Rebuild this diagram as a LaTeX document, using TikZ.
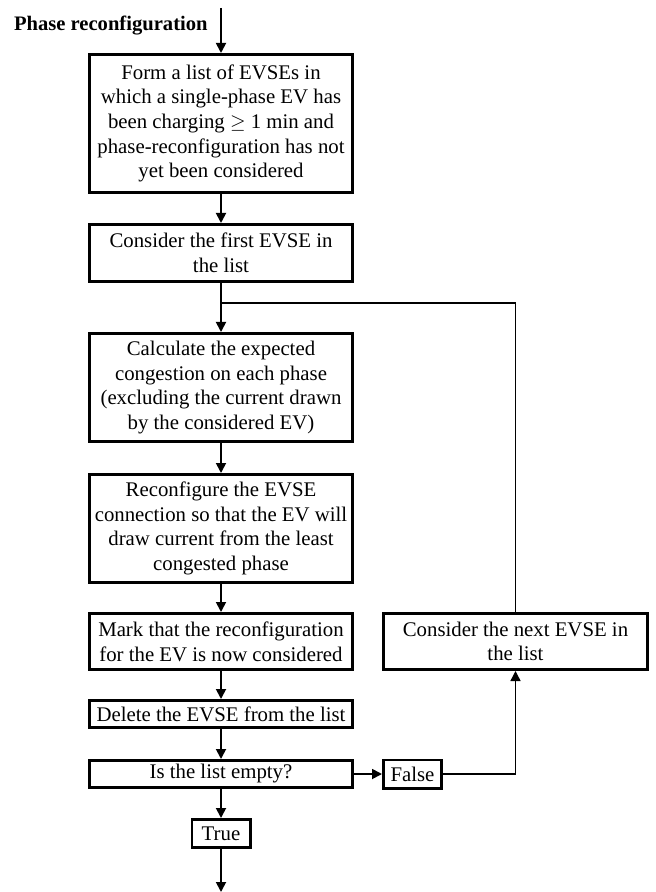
\documentclass[tikz,border=0pt]{standalone}
\usepackage{fontspec}
\setmainfont{Liberation Serif}
\usetikzlibrary{arrows.meta,positioning}
\tikzset{
	stepbox/.style={
		rectangle,
		draw=black,
		line width=1.3pt,
		align=flush center,
		inner xsep=1pt,
		inner ysep=1pt,
		text width=129.7pt,
		font=\fontsize{10.4}{12.35}\selectfont
	},
	tagbox/.style={
		rectangle,
		draw=black,
		line width=1.3pt,
		align=center,
		inner sep=1pt,
		minimum width=29.2pt,
		minimum height=14.2pt,
		font=\fontsize{10.4}{12.35}\selectfont
	},
	line/.style={-{Triangle[width=5pt,length=5pt]},line width=0.9pt}
}
\begin{document}
\begin{tikzpicture}[node distance=14.5pt and 14pt,
			heading/.style={font=\fontsize{10.3}{12.35}\selectfont\bfseries,inner sep=0pt},
			loop/.style={line width=0.7pt}]
		\useasboundingbox (0,0) rectangle (328pt,-446pt);
		% main column
		\node[stepbox,minimum height=69.2pt] (form) at (110.5pt,-61.75pt)
			{Form a list of EVSEs in\\which a single-phase EV has\\been charging $\geq$ 1 min and\\phase-reconfiguration has not\\yet been considered};
		\node[stepbox,minimum height=28.7pt,below=of form] (first)
			{Consider the first EVSE in\\the list};
		\node[stepbox,minimum height=54.2pt,below=24.5pt of first] (calc)
			{Calculate the expected\\congestion on each phase\\(excluding the current drawn\\by the considered EV)};
		\node[stepbox,minimum height=54.2pt,below=15pt of calc] (reconf)
			{Reconfigure the EVSE\\connection so that the EV will\\draw current from the least\\congested phase};
		\node[stepbox,minimum height=28.2pt,below=14pt of reconf] (mark)
			{Mark that the reconfiguration\\for the EV is now considered};
		\node[stepbox,minimum height=13.7pt,below=14pt of mark] (delete)
			{Delete the EVSE from the list};
		\node[stepbox,minimum height=13.7pt,below=15pt of delete] (empty)
			{Is the list empty?};
		\node[tagbox,below=of empty] (true) {True};
		\node[tagbox,right=of empty] (false) {False};
		\node[stepbox,minimum height=28.2pt,text width=130.2pt,right=of mark] (next)
			{Consider the next EVSE in\\the list};

		\coordinate[above=22.5pt of form.north] (start);
		\coordinate[below=21.5pt of true.south] (finish);
		\coordinate[below=10pt of first.south] (join);
		\node[heading,anchor=base east] (title) at ([xshift=-6.5pt,yshift=-11.5pt]start) {Phase reconfiguration};

		\draw[line] (start) -- (form);
		\draw[line] (form) -- (first);
		\draw[line] (first) -- (calc);
		\draw[line] (calc) -- (reconf);
		\draw[line] (reconf) -- (mark);
		\draw[line] (mark) -- (delete);
		\draw[line] (delete) -- (empty);
		\draw[line] (empty) -- (true);
		\draw[line] (true) -- (finish);
		\draw[line] (empty) -- (false);
		\draw[line,line width=0.7pt] (false) -| (next);
		\draw[loop] (join) -| (next);
	\end{tikzpicture}
\end{document}
